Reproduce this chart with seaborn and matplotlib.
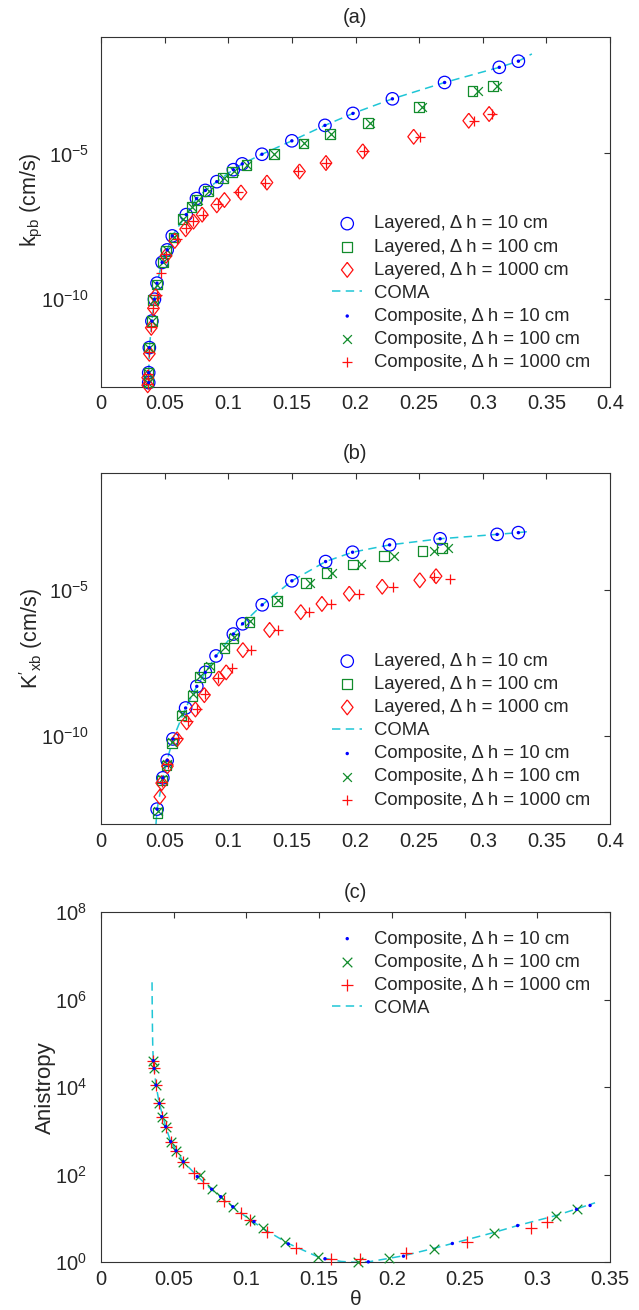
import numpy as np
import matplotlib
matplotlib.use("Agg")
import matplotlib.pyplot as plt
from matplotlib.ticker import FixedLocator, NullLocator, FuncFormatter, LogFormatterMathtext
import seaborn as sns

# ─────────────────────────────────────────────────────────────
#  Data (y values stored as log10)
# ─────────────────────────────────────────────────────────────

# panel (a): k_pb
a_lay10_x = [0.0375, 0.0375, 0.038, 0.040, 0.042, 0.044, 0.048, 0.052, 0.056, 0.067, 0.075, 0.082,
             0.091, 0.104, 0.111, 0.1265, 0.150, 0.176, 0.198, 0.229, 0.270, 0.313, 0.328]
a_lay10_logk = [-12.86, -12.52, -11.66, -10.75, -10.0, -9.45, -8.74, -8.31, -7.83, -7.10, -6.55, -6.27,
                -5.97, -5.56, -5.36, -5.03, -4.57, -4.04, -3.63, -3.13, -2.57, -2.05, -1.84]
a_lay100_x = [0.0372, 0.0372, 0.0375, 0.040, 0.041, 0.044, 0.0485, 0.051, 0.057, 0.064, 0.071, 0.075,
              0.084, 0.096, 0.103, 0.1144, 0.1358, 0.159, 0.180, 0.210, 0.250, 0.292, 0.308]
a_lay100_logk = [-12.86, -12.52, -11.66, -10.75, -10.03, -9.50, -8.74, -8.34, -7.88, -7.25, -6.83, -6.60,
                 -6.28, -5.85, -5.63, -5.40, -5.03, -4.66, -4.33, -3.96, -3.42, -2.87, -2.68]
a_lay1000_x = [0.0367, 0.0367, 0.038, 0.0395, 0.0412, 0.0428, 0.0511, 0.058, 0.0665, 0.0727, 0.0795,
               0.091, 0.097, 0.110, 0.1304, 0.156, 0.1768, 0.2057, 0.2457, 0.289, 0.305]
a_lay1000_logk = [-12.95, -12.69, -11.87, -10.98, -10.31, -9.89, -8.51, -8.0, -7.6, -7.34, -7.10,
                  -6.78, -6.60, -6.34, -6.00, -5.62, -5.33, -4.93, -4.43, -3.88, -3.65]
a_coma_x = [0.0370, 0.0375, 0.038, 0.040, 0.042, 0.044, 0.048, 0.052, 0.056, 0.067, 0.075, 0.082,
            0.091, 0.104, 0.111, 0.1265, 0.150, 0.176, 0.198, 0.229, 0.270, 0.313, 0.328, 0.3386]
a_coma_logk = [-13.0, -12.6, -11.66, -10.75, -10.0, -9.45, -8.74, -8.31, -7.83, -7.10, -6.55, -6.27,
               -5.97, -5.56, -5.36, -5.03, -4.57, -4.04, -3.63, -3.13, -2.57, -2.05, -1.84, -1.59]
a_comp10_x = a_lay10_x
a_comp10_logk = a_lay10_logk
a_comp100_x = [0.0372, 0.0372, 0.0377, 0.040, 0.0415, 0.044, 0.0485, 0.052, 0.057, 0.0645, 0.0715, 0.076,
               0.0845, 0.097, 0.1045, 0.115, 0.136, 0.1595, 0.181, 0.2115, 0.2525, 0.296, 0.311]
a_comp100_logk = [-12.86, -12.52, -11.66, -10.75, -10.03, -9.50, -8.74, -8.30, -7.88, -7.25, -6.83, -6.60,
                  -6.28, -5.85, -5.60, -5.40, -5.03, -4.66, -4.33, -3.96, -3.42, -2.87, -2.68]
a_comp1000_x = [0.0367, 0.0372, 0.038, 0.0395, 0.0412, 0.044, 0.0471, 0.0511, 0.0595, 0.0668, 0.0726,
                0.080, 0.092, 0.108, 0.129, 0.1545, 0.177, 0.207, 0.251, 0.293, 0.3075]
a_comp1000_logk = [-12.9, -12.55, -11.80, -10.95, -10.30, -9.85, -9.10, -8.45, -7.94, -7.56, -7.31,
                   -7.12, -6.74, -6.34, -6.00, -5.60, -5.33, -4.93, -4.43, -3.90, -3.65]

# panel (b): K'_xb
b_lay10_x = [0.0441, 0.0486, 0.052, 0.0565, 0.0665, 0.0753, 0.082, 0.0904, 0.104, 0.1113, 0.1267,
             0.150, 0.1765, 0.1977, 0.2268, 0.2665, 0.3113, 0.328]
b_lay10_logk = [-12.49, -11.42, -10.82, -10.09, -9.03, -8.29, -7.81, -7.25, -6.50, -6.15, -5.50,
                -4.68, -4.02, -3.70, -3.45, -3.24, -3.09, -3.03]
b_lay100_x = [0.0443, 0.0477, 0.0514, 0.0556, 0.0634, 0.0720, 0.0778, 0.0851, 0.0970, 0.104, 0.1168,
              0.1382, 0.1612, 0.1773, 0.1982, 0.2223, 0.2527, 0.268]
b_lay100_logk = [-12.62, -11.51, -11.0, -10.25, -9.29, -8.61, -7.97, -7.64, -6.98, -6.65, -6.09,
                 -5.36, -4.75, -4.42, -4.12, -3.84, -3.66, -3.55]
b_lay1000_x = [0.0462, 0.0477, 0.0522, 0.0598, 0.0673, 0.0742, 0.0812, 0.0925, 0.0984, 0.1115, 0.1325,
               0.157, 0.1736, 0.1951, 0.221, 0.2505, 0.2633]
b_lay1000_logk = [-12.07, -11.60, -11.02, -10.10, -9.52, -9.08, -8.59, -8.02, -7.81, -7.05, -6.36,
                  -5.75, -5.47, -5.12, -4.88, -4.66, -4.52]
b_coma_x = [0.0432, 0.0441, 0.0486, 0.052, 0.0565, 0.0665, 0.0753, 0.082, 0.0904, 0.104, 0.1113, 0.1267,
            0.150, 0.1765, 0.1977, 0.2268, 0.2665, 0.3113, 0.328, 0.3386]
b_coma_logk = [-13.0, -12.49, -11.42, -10.82, -10.09, -9.03, -8.29, -7.81, -7.25, -6.50, -6.15, -5.50,
               -4.68, -4.02, -3.70, -3.45, -3.24, -3.09, -3.03, -2.98]
b_comp10_x = b_lay10_x
b_comp10_logk = b_lay10_logk
b_comp100_x = [0.0445, 0.048, 0.0516, 0.056, 0.0636, 0.0722, 0.078, 0.0855, 0.0975, 0.1045, 0.117,
               0.139, 0.1646, 0.1816, 0.204, 0.2306, 0.2617, 0.2729]
b_comp100_logk = [-12.55, -11.45, -10.95, -10.2, -9.25, -8.55, -7.95, -7.60, -6.95, -6.60, -6.05,
                  -5.35, -4.75, -4.40, -4.12, -3.84, -3.66, -3.55]
b_comp1000_x = [0.0478, 0.0525, 0.0605, 0.068, 0.0755, 0.082, 0.0917, 0.1032, 0.1176, 0.1394, 0.1638,
                0.181, 0.2026, 0.2297, 0.262, 0.2739]
b_comp1000_logk = [-11.55, -10.95, -10.05, -9.48, -9.05, -8.55, -8.0, -7.66, -7.05, -6.36, -5.75,
                   -5.47, -5.12, -4.88, -4.55, -4.60]

# panel (c): anisotropy
c_comp10_x = [0.036, 0.0365, 0.0378, 0.0401, 0.0417, 0.0445, 0.0479, 0.0516, 0.0566, 0.0662, 0.0761,
              0.0823, 0.0906, 0.1052, 0.1288, 0.154, 0.1838, 0.208, 0.2416, 0.2865, 0.327, 0.3363]
c_comp10_loga = [4.61, 4.43, 4.05, 3.63, 3.33, 3.10, 2.76, 2.55, 2.30, 1.96, 1.67,
                 1.50, 1.27, 0.93, 0.42, 0.08, 0.01, 0.14, 0.43, 0.84, 1.21, 1.30]
c_comp100_x = [0.036, 0.0365, 0.0378, 0.0401, 0.0417, 0.0445, 0.0479, 0.0516, 0.0566, 0.0681, 0.0761,
               0.0823, 0.0906, 0.1025, 0.1116, 0.1265, 0.1495, 0.177, 0.198, 0.229, 0.2702, 0.313, 0.327]
c_comp100_loga = [4.61, 4.43, 4.05, 3.63, 3.33, 3.10, 2.76, 2.55, 2.30, 2.0, 1.67,
                  1.50, 1.27, 0.97, 0.78, 0.47, 0.11, 0.0, 0.09, 0.31, 0.68, 1.06, 1.21]
c_comp1000_x = [0.036, 0.0365, 0.0378, 0.0401, 0.0417, 0.0445, 0.0479, 0.0516, 0.0566, 0.064, 0.0704,
                0.0846, 0.0961, 0.1025, 0.114, 0.1339, 0.158, 0.178, 0.210, 0.2515, 0.2955, 0.307]
c_comp1000_loga = [4.61, 4.43, 4.05, 3.63, 3.33, 3.10, 2.76, 2.55, 2.30, 2.03, 1.81,
                   1.40, 1.13, 0.97, 0.70, 0.32, 0.08, 0.08, 0.22, 0.47, 0.79, 0.93]
c_coma_x = [0.0351, 0.0352, 0.0354, 0.0356, 0.036, 0.0378, 0.0401, 0.0445, 0.0479, 0.0566, 0.0662,
            0.0757, 0.0906, 0.1025, 0.114, 0.1288, 0.1495, 0.165, 0.175, 0.1838, 0.198, 0.208, 0.229,
            0.2416, 0.270, 0.2865, 0.313, 0.327, 0.3397]
c_coma_loga = [6.40, 5.9, 5.3, 4.9, 4.6, 4.05, 3.63, 3.10, 2.76, 2.30, 1.97,
               1.67, 1.27, 0.97, 0.72, 0.43, 0.12, 0.02, 0.0, 0.01, 0.09, 0.15, 0.32,
               0.43, 0.68, 0.84, 1.07, 1.22, 1.36]

# ticks / labels
ab_xticks = [0, 0.05, 0.1, 0.15, 0.2, 0.25, 0.3, 0.35, 0.4]
c_xticks = [0, 0.05, 0.1, 0.15, 0.2, 0.25, 0.3, 0.35]
ab_yticks = [1e-10, 1e-5]
c_yticks = [1e0, 1e2, 1e4, 1e6, 1e8]

LAB = {
    "l10": "Layered, \u0394 h = 10 cm",
    "l100": "Layered, \u0394 h = 100 cm",
    "l1000": "Layered, \u0394 h = 1000 cm",
    "coma": "COMA",
    "c10": "Composite, \u0394 h = 10 cm",
    "c100": "Composite, \u0394 h = 100 cm",
    "c1000": "Composite, \u0394 h = 1000 cm",
}

BLUE = "#0000ff"
GREEN = "#128c2c"
RED = "#ff1010"
CYAN = "#1fc6d6"
DIAMOND = [(0, 1), (0.78, 0), (0, -1), (-0.78, 0), (0, 1)]

# ─────────────────────────────────────────────────────────────
#  Style
# ─────────────────────────────────────────────────────────────
sns.set_style("white")
plt.rcParams["font.family"] = ["Liberation Sans", "DejaVu Sans"]
plt.rcParams["mathtext.fontset"] = "custom"
plt.rcParams["mathtext.rm"] = "Liberation Sans"
plt.rcParams["mathtext.it"] = "Liberation Sans:italic"
plt.rcParams["mathtext.default"] = "regular"

W, H = 639, 1310
fig = plt.figure(figsize=(W / 100, H / 100), dpi=100)
fig.patch.set_facecolor("white")


def px_axes(left, top, right, bottom):
    return fig.add_axes([left / W, 1 - bottom / H, (right - left) / W, (bottom - top) / H])


def pw(v):
    return np.power(10.0, np.asarray(v, dtype=float))


def open_marker(ax, x, y, marker, s, color, label):
    sns.scatterplot(x=x, y=pw(y), ax=ax, marker=marker, s=s, color=color,
                    facecolor="none", edgecolor=color, linewidth=0.9,
                    label=label, legend=False, clip_on=False, zorder=3)


def line_marker(ax, x, y, marker, s, color, label):
    sns.scatterplot(x=x, y=pw(y), ax=ax, marker=marker, s=s, color=color,
                    linewidth=0.9, label=label, legend=False, clip_on=False, zorder=4)


def dot_marker(ax, x, y, label):
    sns.scatterplot(x=x, y=pw(y), ax=ax, marker="o", s=6, color=BLUE,
                    edgecolor="none", label=label, legend=False, clip_on=False, zorder=5)


def coma_line(ax, x, y):
    sns.lineplot(x=x, y=pw(y), ax=ax, color=CYAN, linewidth=1.1, linestyle=(0, (5.5, 3.5)),
                 estimator=None, sort=False, errorbar=None, label=LAB["coma"], legend=False, zorder=2)


def style_axes(ax, xticks, xlim, ylim, yticks, ypad):
    ax.set_yscale("log")
    ax.set_xlim(*xlim)
    ax.set_ylim(*ylim)
    ax.xaxis.set_major_locator(FixedLocator(xticks))
    ax.xaxis.set_major_formatter(FuncFormatter(lambda v, _: f"{v:g}"))
    ax.yaxis.set_major_locator(FixedLocator(yticks))
    ax.yaxis.set_major_formatter(LogFormatterMathtext())
    ax.yaxis.set_minor_locator(NullLocator())
    ax.xaxis.set_minor_locator(NullLocator())
    ax.tick_params(axis="both", which="major", direction="in", top=True, right=True,
                   length=4, width=0.8, color="#333333", labelsize=14.5)
    ax.tick_params(axis="x", pad=5.5)
    ax.tick_params(axis="y", pad=ypad)
    for sp in ax.spines.values():
        sp.set_visible(True)
        sp.set_color("#333333")
        sp.set_linewidth(0.8)
    ax.grid(False)


def add_legend(ax, order, top_px):
    handles, labels = ax.get_legend_handles_labels()
    lookup = dict(zip(labels, handles))
    names = [LAB[k] for k in order]
    ax.legend([lookup[n] for n in names], names, loc="upper left",
              bbox_to_anchor=(332 / W, 1 - top_px / H), bbox_transform=fig.transFigure,
              frameon=False, fontsize=13.3, borderpad=0, borderaxespad=0,
              handlelength=1.65, handletextpad=0.6, labelspacing=0.33, scatterpoints=1)


# ─────────────────────────────────────────────────────────────
#  Panels (a) and (b)
# ─────────────────────────────────────────────────────────────
panels = [
    ("(a)", 36.7, 386.7, r"k$_{\mathrm{pb}}$ (cm/s)", 0.534, 215.5,
     (a_lay10_x, a_lay10_logk), (a_lay100_x, a_lay100_logk), (a_lay1000_x, a_lay1000_logk),
     (a_coma_x, a_coma_logk), (a_comp10_x, a_comp10_logk), (a_comp100_x, a_comp100_logk),
     (a_comp1000_x, a_comp1000_logk)),
    ("(b)", 473.3, 824.0, r"$\mathrm{K}'_{\mathrm{xb}}$ (cm/s)", 0.528, 653.0,
     (b_lay10_x, b_lay10_logk), (b_lay100_x, b_lay100_logk), (b_lay1000_x, b_lay1000_logk),
     (b_coma_x, b_coma_logk), (b_comp10_x, b_comp10_logk), (b_comp100_x, b_comp100_logk),
     (b_comp1000_x, b_comp1000_logk)),
]

for title, top, bottom, ylab, ylab_y, leg_top, l10, l100, l1000, coma, c10, c100, c1000 in panels:
    ax = px_axes(101, top, 610, bottom)
    open_marker(ax, l10[0], l10[1], "o", 80, BLUE, LAB["l10"])
    open_marker(ax, l100[0], l100[1], "s", 48, GREEN, LAB["l100"])
    open_marker(ax, l1000[0], l1000[1], DIAMOND, 115, RED, LAB["l1000"])
    coma_line(ax, coma[0], coma[1])
    dot_marker(ax, c10[0], c10[1], LAB["c10"])
    line_marker(ax, c100[0], c100[1], "x", 40, GREEN, LAB["c100"])
    line_marker(ax, c1000[0], c1000[1], "+", 62, RED, LAB["c1000"])

    style_axes(ax, ab_xticks, (0, 0.4), (1e-13, 1e-1), ab_yticks, 8.5)
    ax.set_title(title, fontsize=14.5, pad=10)
    ax.set_xlabel("")
    ax.set_ylabel(ylab, fontsize=15.5)
    ax.yaxis.set_label_coords(-0.11, ylab_y)
    add_legend(ax, ["l10", "l100", "l1000", "coma", "c10", "c100", "c1000"], leg_top)

# ─────────────────────────────────────────────────────────────
#  Panel (c)
# ─────────────────────────────────────────────────────────────
axc = px_axes(101, 912.3, 610, 1262.3)
dot_marker(axc, c_comp10_x, c_comp10_loga, LAB["c10"])
line_marker(axc, c_comp100_x, c_comp100_loga, "x", 48, GREEN, LAB["c100"])
line_marker(axc, c_comp1000_x, c_comp1000_loga, "+", 75, RED, LAB["c1000"])
coma_line(axc, c_coma_x, c_coma_loga)

style_axes(axc, c_xticks, (0, 0.35), (1e0, 1e8), c_yticks, 10)
axc.set_title("(c)", fontsize=14.5, pad=10.5)
axc.set_xlabel("\u03b8", fontsize=15, labelpad=1.0)
axc.set_ylabel("Anistropy", fontsize=16)
axc.yaxis.set_label_coords(-0.088, 0.5)
add_legend(axc, ["c10", "c100", "c1000", "coma"], 930.5)

fig.savefig("out.png", dpi=100, facecolor="white")
plt.close(fig)
